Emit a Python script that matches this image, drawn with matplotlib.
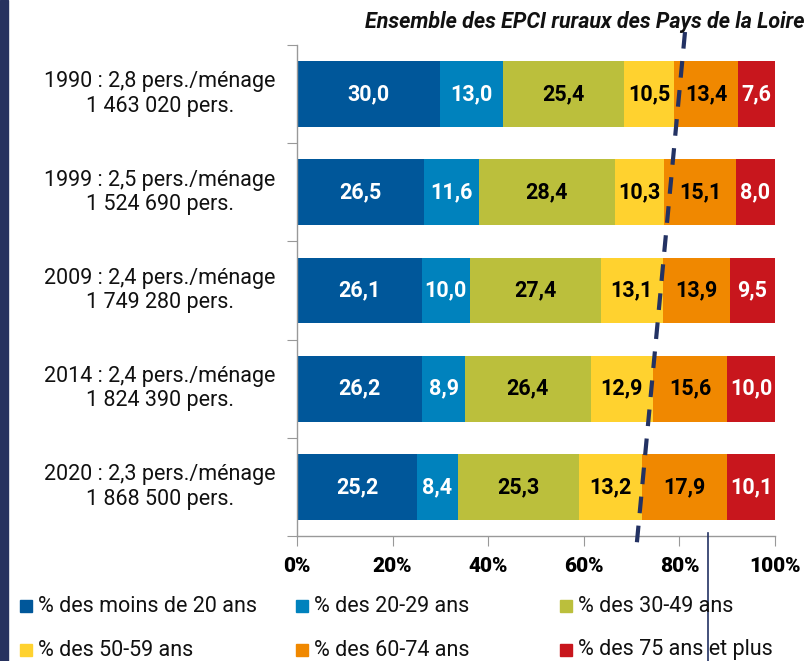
import matplotlib
matplotlib.use("Agg")
import matplotlib.pyplot as plt
import numpy as np
from matplotlib.lines import Line2D
from matplotlib.patches import Rectangle
import matplotlib.transforms as mtransforms

categories = [
    "1990 : 2,8 pers./ménage\n1 463 020 pers.",
    "1999 : 2,5 pers./ménage\n1 524 690 pers.",
    "2009 : 2,4 pers./ménage\n1 749 280 pers.",
    "2014 : 2,4 pers./ménage\n1 824 390 pers.",
    "2020 : 2,3 pers./ménage\n1 868 500 pers.",
]
series_names = [
    "% des moins de 20 ans",
    "% des 20-29 ans",
    "% des 30-49 ans",
    "% des 50-59 ans",
    "% des 60-74 ans",
    "% des 75 ans et plus",
]
moins20 = [30.0, 26.5, 26.1, 26.2, 25.2]
a20_29 = [13.0, 11.6, 10.0, 8.9, 8.4]
a30_49 = [25.4, 28.4, 27.4, 26.4, 25.3]
a50_59 = [10.5, 10.3, 13.1, 12.9, 13.2]
a60_74 = [13.4, 15.1, 13.9, 15.6, 17.9]
a75plus = [7.6, 8.0, 9.5, 10.0, 10.1]
series = [moins20, a20_29, a30_49, a50_59, a60_74, a75plus]
colors = ["#00579a", "#0082bd", "#bbbf3c", "#ffd22f", "#f08800", "#c8161d"]
text_colors = ["white", "white", "black", "black", "black", "white"]
xticks = [0, 20, 40, 60, 80, 100]
xticklabels = ["0%", "20%", "40%", "60%", "80%", "100%"]
title = "Ensemble des EPCI ruraux des Pays de la Loire"

plt.rcParams['font.family'] = ['Roboto', 'DejaVu Sans']

W, H = 812, 661
fig = plt.figure(figsize=(W / 100, H / 100), dpi=100)
ax = fig.add_axes([297 / W, 1 - 536 / H, (775 - 297) / W, (536 - 45) / H])

n = len(categories)
ypos = np.arange(n)[::-1]  # first category at top
left = np.zeros(n)
for vals, col, tcol in zip(series, colors, text_colors):
    vals = np.array(vals)
    ax.barh(ypos, vals, left=left, height=0.67, color=col, edgecolor="none")
    for y, l, v in zip(ypos, left, vals):
        ax.text(l + v / 2, y, f"{v:.1f}".replace(".", ","), ha="center", va="center",
                fontsize=15.5, fontweight="bold", color=tcol)
    left += vals

ax.set_xlim(0, 100)
ax.set_ylim(-0.5, n - 0.5)
ax.set_xticks(xticks)
ax.set_xticklabels(xticklabels, fontsize=15, fontweight="heavy")
ax.tick_params(axis="x", length=7, color="#999999", pad=8)
ax.set_yticks(np.arange(n + 1) - 0.5)
ax.set_yticklabels([])
ax.tick_params(axis="y", length=7, color="#999999")
for s in ["top", "right"]:
    ax.spines[s].set_visible(False)
for s in ["left", "bottom"]:
    ax.spines[s].set_color("#999999")
    ax.spines[s].set_linewidth(1)

# category labels
trans = mtransforms.blended_transform_factory(fig.transFigure, ax.transData)
for y, lab in zip(ypos, categories):
    ax.text(160 / W, y, lab, transform=trans, ha="center", va="center",
            fontsize=15.5, linespacing=1.22, color="#111111")

# title
fig.text(805 / W, 1 - 22 / H, title, ha="right", va="center", fontsize=15.5,
         fontweight="bold", fontstyle="italic", color="#111111")

# left dark strip
fig.add_artist(Rectangle((0, 0), 8 / W, 1, transform=fig.transFigure,
                         color="#27325f", zorder=0))

# dashed annotation line
fig.add_artist(Line2D([685 / W, 636 / W], [1 - 32 / H, 1 - 552 / H],
                      transform=fig.transFigure, color="#233263", lw=3,
                      linestyle=(0, (4, 3))))
# thin vertical line
fig.add_artist(Line2D([708 / W, 708 / W], [1 - 533 / H, 0],
                      transform=fig.transFigure, color="#233263", lw=1.2))

# legend
leg_x = [20, 296, 560]
leg_y = [606, 650]
order = [[0, 1, 2], [3, 4, 5]]
for r, row in enumerate(order):
    for c, idx in enumerate(row):
        x0 = leg_x[c] / W
        y0 = 1 - leg_y[r] / H
        fig.add_artist(Rectangle((x0, y0 - 6 / H), 12 / W, 12 / H,
                                 transform=fig.transFigure, color=colors[idx]))
        fig.text(x0 + 18 / W, y0, series_names[idx], ha="left", va="center",
                 fontsize=15.5, color="#111111")

fig.savefig("out.png", dpi=100)
